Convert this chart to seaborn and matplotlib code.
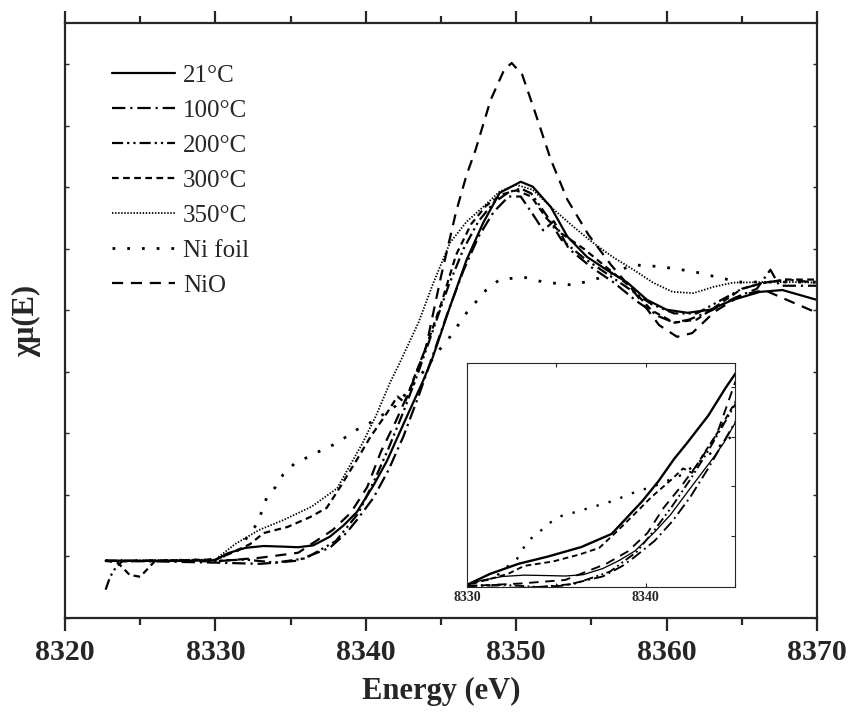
import numpy as np
import pandas as pd
import matplotlib
matplotlib.use("Agg")
import matplotlib.pyplot as plt
from matplotlib.ticker import MultipleLocator, NullFormatter
import seaborn as sns

# ---------------- data ----------------
e21_x = [8322.7, 8325, 8328, 8330, 8330.8, 8332, 8333.2, 8334.5, 8335.5, 8336.5, 8337.6, 8338.5, 8339.4,
         8340.5, 8341.4, 8342.5, 8343.8, 8344.4, 8345.6, 8346.7, 8347.8, 8348.9, 8350.3, 8351.1, 8352.3,
         8353.4, 8354.7, 8356, 8357.4, 8358.7, 8360, 8361.4, 8362.9, 8364.4, 8366.2, 8367.7, 8370]
e21_y = [0.93, 0.93, 0.93, 0.94, 1.05, 1.14, 1.17, 1.16, 1.15, 1.18, 1.32, 1.50, 1.72,
         2.15, 2.55, 3.15, 3.85, 4.2, 5.06, 5.82, 6.42, 6.91, 7.09, 7.01, 6.68,
         6.20, 5.87, 5.66, 5.45, 5.17, 5.01, 4.96, 5.01, 5.17, 5.30, 5.33, 5.17]

e100_x = [8322.7, 8326, 8330, 8333, 8335.4, 8337.6, 8338.7, 8339.4, 8340.5, 8341.5, 8342.5, 8343.5,
          8344.5, 8345.5, 8346.5, 8347.5, 8348.5, 8349.5, 8350.3, 8351, 8351.8, 8352.5, 8353.5, 8355,
          8356.5, 8358, 8359.5, 8360.5, 8361.5, 8363, 8364.5, 8366, 8366.9, 8367.5, 8368, 8370]
e100_y = [0.93, 0.92, 0.9, 0.88, 0.93, 1.14, 1.38, 1.59, 1.95, 2.4, 2.95, 3.6,
          4.3, 5.0, 5.65, 6.2, 6.6, 6.85, 6.85, 6.6, 6.3, 6.45, 6.0, 5.7,
          5.45, 5.15, 4.9, 4.8, 4.85, 5.0, 5.2, 5.35, 5.66, 5.4, 5.4, 5.4]

e200_x = [8322.7, 8323, 8323.4, 8323.8, 8326, 8330, 8332, 8334, 8336, 8338, 8339.5, 8340.5, 8341.5,
          8342.5, 8343.5, 8344.5, 8345.5, 8346.5, 8347.5, 8348.5, 8349.5, 8350.3, 8351, 8352, 8353,
          8354.5, 8356, 8357.5, 8359, 8360.5, 8362, 8363.5, 8365, 8366.5, 8368, 8370]
e200_y = [0.46, 0.67, 0.83, 0.92, 0.93, 0.93, 0.95, 0.9, 0.97, 1.25, 1.7, 2.2, 2.75,
          3.35, 4.0, 4.7, 5.4, 6.0, 6.45, 6.75, 6.92, 6.98, 6.9, 6.55, 6.15,
          5.85, 5.6, 5.35, 5.1, 4.95, 4.95, 5.15, 5.35, 5.45, 5.5, 5.45]

e300_x = [8322.7, 8323.5, 8324.3, 8325, 8326, 8330, 8331, 8332.3, 8333.2, 8334.8, 8336.3, 8337.4, 8338.3,
          8339.4, 8340.3, 8341.4, 8342.1, 8342.6, 8343.2, 8344, 8345, 8346, 8347, 8348, 8349, 8350,
          8351, 8352, 8353, 8354.5, 8356, 8357.5, 8359, 8360.5, 8362, 8363.5, 8365, 8366.5, 8368, 8370]
e300_y = [0.93, 0.90, 0.70, 0.67, 0.93, 0.95, 1.05, 1.2, 1.38, 1.48, 1.64, 1.79, 2.13,
          2.57, 2.94, 3.33, 3.6, 3.5, 3.9, 4.4, 5.1, 5.9, 6.4, 6.7, 6.88, 6.95,
          6.85, 6.5, 6.25, 6.0, 5.7, 5.4, 5.0, 4.8, 4.85, 5.1, 5.35, 5.45, 5.5, 5.5]

e350_x = [8322.7, 8326, 8330, 8331.3, 8332.9, 8334.5, 8336.4, 8338.1, 8339.8, 8340.7, 8341.6, 8342.3,
          8343.5, 8344.5, 8345.6, 8346.7, 8347.8, 8348.9, 8350, 8351.1, 8352.3, 8353.8, 8355.1, 8356.4,
          8357.8, 8359.1, 8360.4, 8361.8, 8363.1, 8364.4, 8366.7, 8368.4, 8370]
e350_y = [0.93, 0.94, 0.95, 1.20, 1.43, 1.59, 1.81, 2.11, 2.85, 3.3, 3.82, 4.17,
          4.8, 5.45, 6.10, 6.44, 6.68, 6.93, 7.04, 6.96, 6.68, 6.36, 6.10, 5.87,
          5.66, 5.45, 5.30, 5.28, 5.38, 5.45, 5.46, 5.46, 5.45]

nifoil_x = [8322.7, 8326, 8330, 8331.5, 8332.3, 8332.8, 8333.4, 8334, 8334.5, 8335.3, 8336.2, 8337,
            8337.8, 8338.6, 8339.4, 8340.5, 8342, 8343.5, 8344.9, 8345.6, 8346.7, 8348, 8348.9, 8350.5,
            8351.8, 8353.8, 8355.6, 8357.8, 8359.6, 8361.8, 8363.5, 8364.9, 8366.7, 8368.4, 8370]
nifoil_y = [0.93, 0.93, 0.95, 1.1, 1.38, 1.54, 1.95, 2.13, 2.33, 2.52, 2.62, 2.72,
            2.81, 2.93, 3.06, 3.2, 3.45, 3.9, 4.36, 4.57, 4.96, 5.33, 5.50, 5.54,
            5.46, 5.41, 5.53, 5.74, 5.71, 5.63, 5.53, 5.46, 5.46, 5.46, 5.46]

nio_x = [8322.7, 8326, 8330, 8333, 8335.5, 8337.8, 8339, 8340.1, 8341, 8342, 8343, 8344, 8345, 8346,
         8346.7, 8347.3, 8348.3, 8349.2, 8349.7, 8350.4, 8351.2, 8352.3, 8353.4, 8354.8, 8356.3, 8358,
         8359.5, 8360.7, 8361.7, 8363.2, 8365, 8366.5, 8368, 8370]
nio_y = [0.93, 0.93, 0.92, 0.98, 1.06, 1.43, 1.71, 2.13, 2.7, 3.2, 3.75, 4.4, 5.55, 6.6,
         7.2, 7.61, 8.42, 8.91, 9.02, 8.83, 8.26, 7.45, 6.80, 6.23, 5.74, 5.25,
         4.76, 4.57, 4.63, 4.98, 5.25, 5.33, 5.17, 4.96]

labels = ["21\u00b0C", "100\u00b0C", "200\u00b0C", "300\u00b0C", "350\u00b0C", "Ni foil", "NiO"]
xs = [e21_x, e100_x, e200_x, e300_x, e350_x, nifoil_x, nio_x]
ys = [e21_y, e100_y, e200_y, e300_y, e350_y, nifoil_y, nio_y]

styles = [
    dict(linestyle="-", lw=1.6),
    dict(linestyle=(0, (6, 2.2, 1, 2.2)), lw=1.6),
    dict(linestyle=(0, (5, 1.8, 1, 1.8, 1, 1.8)), lw=1.6),
    dict(linestyle=(0, (3, 2)), lw=1.6),
    dict(linestyle=(0, (0.8, 0.9)), lw=1.3),
    dict(linestyle=(0, (1, 4.3)), lw=2.0),
    dict(linestyle=(0, (5, 3.5)), lw=1.6),
]

# ---------------- style ----------------
sns.set_theme(style="ticks")
plt.rcParams["font.family"] = ["Liberation Serif", "DejaVu Serif"]
plt.rcParams["axes.linewidth"] = 1.6

fig = plt.figure(figsize=(8.48, 7.19), dpi=100)
ax = fig.add_axes([65 / 848, 1 - 618 / 719, 752 / 848, 595 / 719])

for lab, x, y, st in zip(labels, xs, ys, styles):
    df = pd.DataFrame({"E": x, "mu": y})
    sns.lineplot(data=df, x="E", y="mu", ax=ax, color="black", label=lab,
                 estimator=None, sort=False, **st)

ax.set_xlim(8320, 8370)
ax.set_ylim(0, 9.67)
ax.xaxis.set_major_locator(MultipleLocator(10))
ax.xaxis.set_minor_locator(MultipleLocator(5))
ax.yaxis.set_major_locator(MultipleLocator(1))
ax.yaxis.set_major_formatter(NullFormatter())
ax.tick_params(axis="x", which="major", direction="out", length=9, width=1.6,
               top=True, bottom=True, labelsize=21.5, pad=6)
ax.tick_params(axis="x", which="minor", direction="out", length=5, width=1.6, top=True, bottom=True)
ax.tick_params(axis="y", which="major", direction="in", length=3, width=1.0, left=True, right=True)
for t in ax.get_xticklabels():
    t.set_fontweight("bold")

ax.set_xlabel("Energy (eV)", fontsize=22, fontweight="bold", labelpad=8)
ax.set_ylabel("\u03c7\u03bc(E)", fontsize=22, fontweight="bold", labelpad=14)

leg = ax.legend(loc="upper left", bbox_to_anchor=(0.062, 0.93), frameon=False,
                fontsize=18, handlelength=2.55, handletextpad=0.3, labelspacing=0.5,
                borderaxespad=0, borderpad=0)

# ---------------- inset ----------------
axi = fig.add_axes([467 / 848, 1 - 587 / 719, 268 / 848, 224 / 719])
inset_styles = list(styles)
inset_styles[4] = dict(linestyle="-", lw=2.0)
inset_styles[0] = dict(linestyle="-", lw=1.1)
for lab, x, y, st in zip(labels, xs, ys, inset_styles):
    df = pd.DataFrame({"E": x, "mu": y})
    st2 = dict(st)
    st2["lw"] = st2["lw"] * 0.85
    sns.lineplot(data=df, x="E", y="mu", ax=axi, color="black", legend=False,
                 estimator=None, sort=False, **st2)
axi.set_xlim(8330, 8345)
axi.set_ylim(0.9, 6.0)
axi.set_xlabel("")
axi.set_ylabel("")
axi.xaxis.set_major_locator(MultipleLocator(10))
axi.xaxis.set_minor_locator(MultipleLocator(5))
axi.set_yticks([2.06, 3.19, 4.32, 5.45])
axi.yaxis.set_major_formatter(NullFormatter())
for s in axi.spines.values():
    s.set_linewidth(0.8)
axi.tick_params(axis="x", which="both", direction="in", length=3, width=0.8, top=True, bottom=True,
                labelsize=10, pad=3)
axi.tick_params(axis="y", direction="in", length=3, width=0.8, left=False, right=True)
for t in axi.get_xticklabels():
    t.set_fontweight("bold")

fig.savefig("out.png", dpi=100)
